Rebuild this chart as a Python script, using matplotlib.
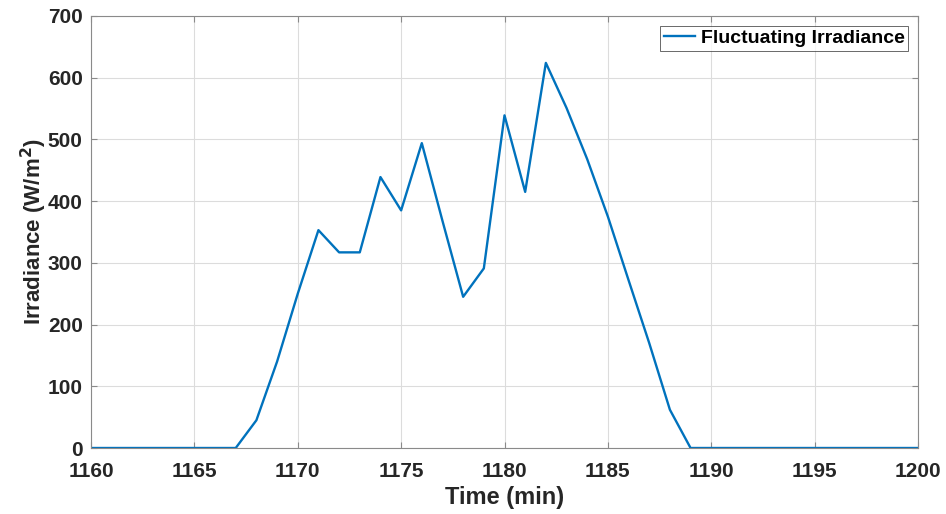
import matplotlib.pyplot as plt

plt.rcParams['font.family'] = ['Liberation Sans', 'DejaVu Sans']
plt.rcParams['font.weight'] = 'bold'

# irradiance per minute
minutes = list(range(1160, 1201))
irradiance = ([0] * 8 +
              [45, 140, 250, 353, 317, 317, 439, 385, 494, 368, 245, 291,
               539, 415, 624, 551, 468, 375, 272, 170, 62] +
              [0] * 12)

fig = plt.figure(figsize=(9.46, 5.14), dpi=100)
ax = fig.add_axes([0.0962, 0.1284, 0.8742, 0.8405])

ax.plot(minutes, irradiance, color='#0072BD', linewidth=1.7,
        label='Fluctuating Irradiance')

ax.set_xlim(1160, 1200)
ax.set_ylim(0, 700)
ax.set_xticks(range(1160, 1201, 5))
ax.set_yticks(range(0, 701, 100))
ax.grid(True, color='#dcdcdc', linewidth=0.8)
ax.set_axisbelow(True)

ax.tick_params(direction='in', top=True, right=True, length=4,
               color='#8a8a8a', labelsize=15, labelcolor='#262626')
ax.tick_params(axis='x', pad=10)
ax.tick_params(axis='y', pad=6)
for s in ax.spines.values():
    s.set_color('#8a8a8a')
    s.set_linewidth(0.8)

ax.set_xlabel('Time (min)', fontsize=17, fontweight='bold', color='#262626', labelpad=4)
ax.set_ylabel(r'Irradiance (W/m$^{\mathbf{2}}$)', fontsize=16, fontweight='bold',
              color='#262626', labelpad=-1)

leg = ax.legend(loc='upper right', fontsize=14, frameon=True, fancybox=False,
                borderpad=0.2, handlelength=1.6, handletextpad=0.3,
                borderaxespad=0.5)
leg.get_frame().set_edgecolor('#262626')
leg.get_frame().set_linewidth(0.6)

fig.savefig('out.png', dpi=100)
